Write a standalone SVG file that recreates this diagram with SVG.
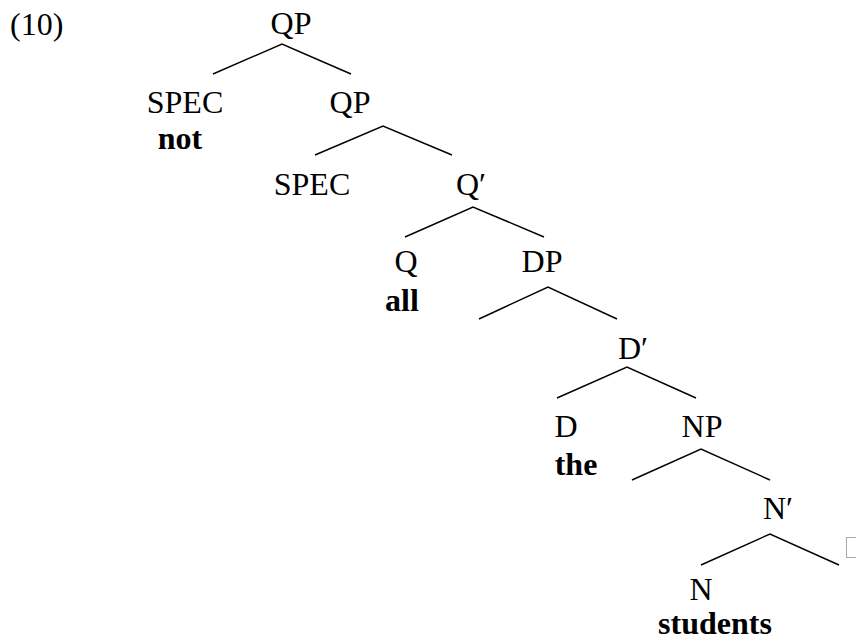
<svg xmlns="http://www.w3.org/2000/svg" width="856" height="641" viewBox="0 0 856 641">
  <style>
    text { font-family: "Liberation Serif", "Times New Roman", serif; font-size: 32px; fill: #000; }
    .c { text-anchor: middle; }
    .b { font-weight: bold; }
    .edge { stroke: #000; stroke-width: 1.4; fill: none; }
  </style>
  <rect width="856" height="641" fill="#fff"/>
  <text id="label" x="10" y="35">(10)</text>

  <g id="connectors">
    <polyline class="edge" points="213,74 282,44 351,74"/>
    <polyline class="edge" points="315,155 383,126 452,155"/>
    <polyline class="edge" points="405,237 473,207 544,237"/>
    <polyline class="edge" points="479,319 548,287 617,319"/>
    <polyline class="edge" points="557,398 627,367 696,398"/>
    <polyline class="edge" points="632,480 701,449 770,480"/>
    <polyline class="edge" points="701,565 770,534 839,565"/>
  </g>

  <g id="qp-root"><text class="c" x="291" y="34">QP</text></g>
  <g id="spec-1">
    <text class="c" x="185" y="113">SPEC</text>
    <text class="c b" x="180" y="149">not</text>
  </g>
  <g id="qp-1"><text class="c" x="350" y="113">QP</text></g>
  <g id="spec-2"><text class="c" x="312" y="195">SPEC</text></g>
  <g id="q-bar"><text x="456" y="195">Q′</text></g>
  <g id="q">
    <text class="c" x="406" y="272">Q</text>
    <text class="c b" x="402" y="311">all</text>
  </g>
  <g id="dp"><text class="c" x="542" y="272">DP</text></g>
  <g id="d-bar"><text x="618" y="359">D′</text></g>
  <g id="d">
    <text class="c" x="566" y="437">D</text>
    <text class="c b" x="576" y="475">the</text>
  </g>
  <g id="np"><text class="c" x="702" y="437">NP</text></g>
  <g id="n-bar"><text x="763" y="519">N′</text></g>
  <g id="n">
    <text class="c" x="701" y="600">N</text>
    <text class="c b" x="715" y="634">students</text>
  </g>
  <g id="n-bar-complement">
    <rect x="846.5" y="537.5" width="12" height="20" fill="none" stroke="#aaa" stroke-width="1"/>
  </g>
</svg>
